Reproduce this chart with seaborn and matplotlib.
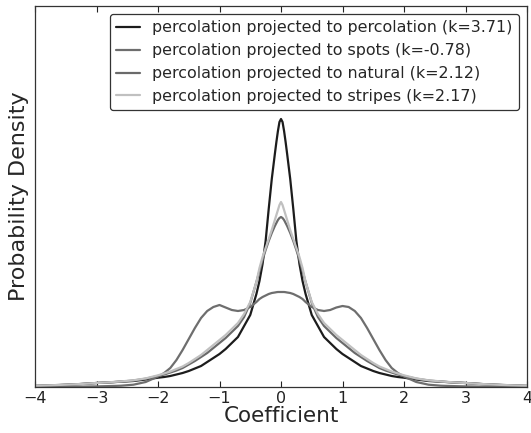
import matplotlib
matplotlib.use("Agg")
import matplotlib.pyplot as plt
import pandas as pd
import seaborn as sns

# coefficient grid the curves were read at
coef = [-4, -3.75, -3.5, -3.25, -3, -2.8, -2.6, -2.4, -2.2, -2, -1.9, -1.8, -1.7, -1.6,
        -1.5, -1.4, -1.3, -1.2, -1.1, -1, -0.9, -0.8, -0.7, -0.6, -0.5, -0.4, -0.35,
        -0.3, -0.25, -0.2, -0.15, -0.1, -0.075, -0.05, -0.025, 0, 0.025, 0.05, 0.075,
        0.1, 0.15, 0.2, 0.25, 0.3, 0.35, 0.4, 0.5, 0.6, 0.7, 0.8, 0.9, 1, 1.1, 1.2,
        1.3, 1.4, 1.5, 1.6, 1.7, 1.8, 1.9, 2, 2.2, 2.4, 2.6, 2.8, 3, 3.25, 3.5, 3.75, 4]

# unnormalised densities (arbitrary units)
dens_percolation = [1, 1.5, 2.2, 3, 4, 4.6, 5.3, 6, 7.5, 9.3, 10, 11, 12.5, 14, 16, 18.5,
                    21, 25, 29, 33, 38, 44, 50, 61, 72, 93, 106, 123, 146, 178, 208, 233,
                    245, 256, 265, 268, 265, 256, 245, 233, 208, 178, 146, 123, 106, 93,
                    72, 61, 50, 44, 38, 33, 29, 25, 21, 18.5, 16, 14, 12.5, 11, 10, 9.3,
                    7.5, 6, 5.3, 4.6, 4, 3, 2.2, 1.5, 1]
dens_spots = [0.1, 0.2, 0.3, 0.4, 0.6, 0.9, 1.3, 2.3, 5, 10.5, 14, 19, 27, 37, 48, 59,
              69, 76, 80, 82, 79.5, 77, 76, 77, 80, 85, 88, 90, 91.5, 93, 94, 94.5, 94.8,
              95, 95, 95, 95, 95, 94.8, 94.5, 94, 93, 91.5, 90, 88, 85, 80, 77, 76, 77,
              79.5, 81, 80, 76, 69, 59, 48, 37, 27, 19, 14, 10.5, 5, 2.3, 1.3, 0.9, 0.6,
              0.4, 0.3, 0.2, 0.1]
dens_natural = [1.2, 1.7, 2.3, 3, 4, 4.6, 5.4, 6.5, 8.3, 11, 12.5, 14.5, 16.5, 19, 22.5,
                26, 30, 34, 39, 44, 49, 55, 61, 70, 84, 105, 116, 127, 137, 146, 154, 161,
                164, 167, 169, 170, 169, 167, 164, 161, 154, 146, 137, 127, 116, 105, 84,
                70, 61, 55, 49, 44, 39, 34, 30, 26, 22.5, 19, 16.5, 14.5, 12.5, 11, 8.3,
                6.5, 5.4, 4.6, 4, 3, 2.3, 1.7, 1.2]
dens_stripes = [1.2, 1.7, 2.3, 3, 4, 4.7, 5.6, 6.7, 8.6, 11.7, 13.5, 15.5, 18, 20.5, 24,
                28, 32, 37, 42, 47, 52, 58, 64, 73, 85, 105, 119, 130, 139, 148, 157, 167,
                172, 177, 182, 185, 182, 177, 172, 167, 157, 148, 139, 130, 119, 105, 85,
                73, 64, 58, 52, 47, 42, 37, 32, 28, 24, 20.5, 18, 15.5, 13.5, 11.7, 8.6,
                6.7, 5.6, 4.7, 4, 3, 2.3, 1.7, 1.2]

labels = ["percolation projected to percolation (k=3.71)",
          "percolation projected to spots (k=-0.78)",
          "percolation projected to natural (k=2.12)",
          "percolation projected to stripes (k=2.17)"]
colors = ["#1c1c1c", "#6e6e6e", "#6a6a6a", "#c0c0c0"]

# long format for seaborn
frames = []
for lab, d in zip(labels, [dens_percolation, dens_spots, dens_natural, dens_stripes]):
    frames.append(pd.DataFrame({"coef": coef, "density": d, "series": lab}))
df = pd.concat(frames, ignore_index=True)

sns.set_style("ticks")
plt.rcParams['font.family'] = ['DejaVu Sans']

fig = plt.figure(figsize=(5.31, 4.33), dpi=100)
ax = fig.add_axes([35 / 531, 1 - 387 / 433, 492 / 531, 381 / 433])

sns.lineplot(data=df, x="coef", y="density", hue="series", hue_order=labels,
             palette=dict(zip(labels, colors)), estimator=None, sort=False,
             linewidth=1.6, ax=ax)

ax.set_xlim(-4, 4)
ax.set_ylim(0, 381)
ax.set_yticks([])
ax.set_xticks(range(-4, 5))
ax.tick_params(axis="x", direction="in", top=True, length=4, width=0.8,
               labelsize=11.5, colors="#222222", pad=3)
for sp in ax.spines.values():
    sp.set_visible(True)
    sp.set_color("#333333")
    sp.set_linewidth(0.9)

ax.set_xlabel("Coefficient", fontsize=15.5, labelpad=0)
ax.set_ylabel("Probability Density", fontsize=16, labelpad=4)

leg = ax.legend(loc="upper right", fontsize=11.4, handlelength=1.5,
                frameon=True, fancybox=True, framealpha=1)
leg.get_frame().set_edgecolor("#333333")
leg.get_frame().set_linewidth(0.9)

fig.savefig("out.png", dpi=100)
